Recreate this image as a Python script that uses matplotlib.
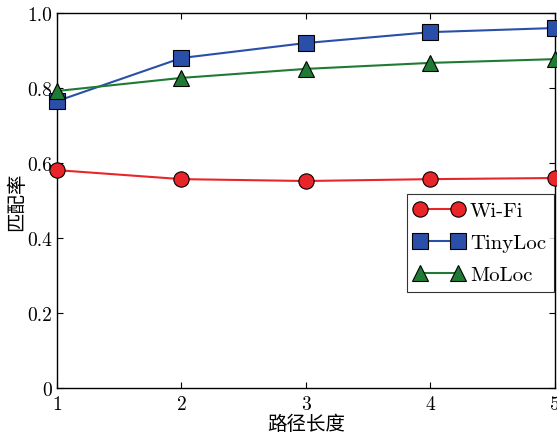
import matplotlib
matplotlib.use("Agg")
import matplotlib.pyplot as plt

path_len = [1, 2, 3, 4, 5]
wifi = [0.581, 0.557, 0.552, 0.557, 0.560]
tinyloc = [0.765, 0.880, 0.920, 0.949, 0.960]
moloc = [0.792, 0.827, 0.851, 0.867, 0.877]
yticks = [0, 0.2, 0.4, 0.6, 0.8, 1.0]
ytick_labels = ["0", "0.2", "0.4", "0.6", "0.8", "1.0"]

plt.rcParams["font.family"] = ["cmr10", "Noto Sans CJK SC", "DejaVu Serif"]
plt.rcParams["axes.unicode_minus"] = False

fig = plt.figure(figsize=(5.57, 4.35), dpi=100)
ax = fig.add_axes([0.1023, 0.1057, 0.8941, 0.8621])

ms = 11
ax.plot(path_len, wifi, color="#e8262a", lw=1.5, marker="o", ms=ms,
        mfc="#e8262a", mec="black", mew=0.8, label="Wi-Fi", clip_on=False, zorder=3)
ax.plot(path_len, tinyloc, color="#2a4fa8", lw=1.5, marker="s", ms=ms,
        mfc="#2a4fa8", mec="black", mew=0.8, label="TinyLoc", clip_on=False, zorder=3)
ax.plot(path_len, moloc, color="#1f7a34", lw=1.5, marker="^", ms=ms,
        mfc="#1f7a34", mec="black", mew=0.8, label="MoLoc", clip_on=False, zorder=3)

ax.set_xlim(1, 5)
ax.set_ylim(0, 1)
ax.set_xticks(path_len)
ax.set_yticks(yticks)
ax.set_yticklabels(ytick_labels)
ax.tick_params(direction="in", top=True, right=True, labelsize=14, length=4, width=0.8)
ax.tick_params(axis="x", pad=5)
for s in ax.spines.values():
    s.set_linewidth(1.0)

ax.set_xlabel("路径长度", fontsize=14, family=["Noto Sans CJK SC"], labelpad=0)
ax.set_ylabel("匹配率", fontsize=14, family=["Noto Sans CJK SC"], labelpad=0)

leg = ax.legend(loc="upper right", bbox_to_anchor=(0.997, 0.517), numpoints=2,
                fontsize=15, frameon=True, fancybox=False, edgecolor="black",
                borderpad=0.35, labelspacing=0.65, handlelength=2.4,
                handletextpad=0.3, borderaxespad=0)
leg.get_frame().set_linewidth(0.8)

fig.savefig("out.png", dpi=100)
